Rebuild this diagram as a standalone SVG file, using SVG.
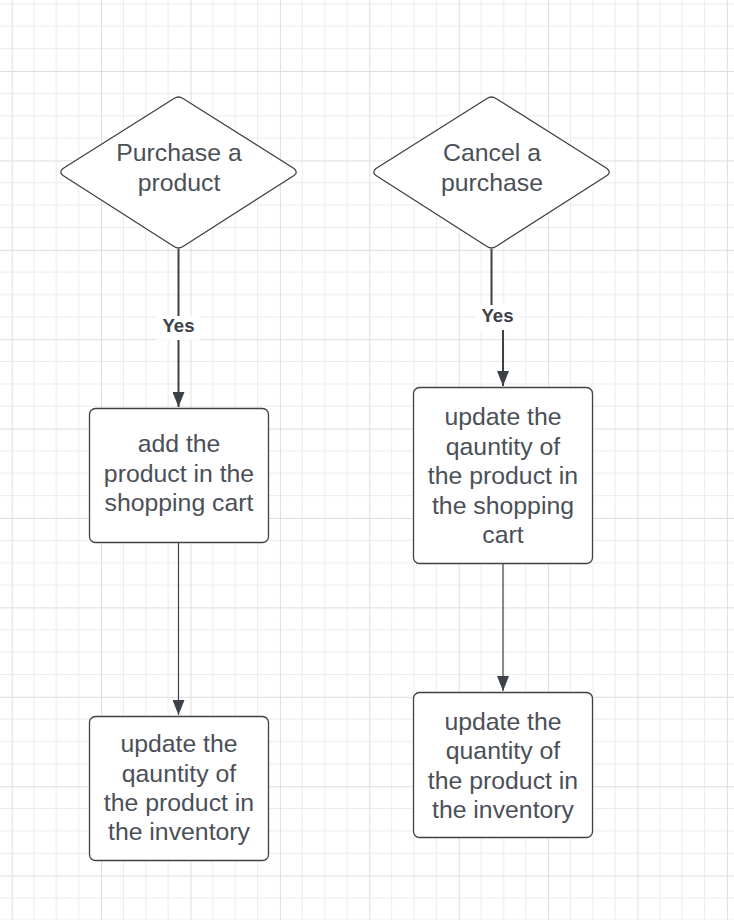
<svg xmlns="http://www.w3.org/2000/svg" width="734" height="920" viewBox="0 0 734 920">
<style>
.shape{fill:#ffffff;stroke:#3d4148;stroke-width:1.3;stroke-linejoin:round}
.lbl{font-family:"Liberation Sans",Arial,sans-serif;font-size:24.8px;fill:#4b5058;text-anchor:middle}
.yes{font-family:"Liberation Sans",Arial,sans-serif;font-size:18.6px;font-weight:bold;fill:#3d4148;text-anchor:middle}
.edge{fill:none;stroke:#3d4148}
</style>
<defs>
<pattern id="grid" patternUnits="userSpaceOnUse" x="11.7" y="71" width="89.4" height="89.4">
<path d="M22.35 0V89.4M44.7 0V89.4M67.05 0V89.4M0 22.35H89.4M0 44.7H89.4M0 67.05H89.4" stroke="#ececec" stroke-width="1" fill="none"/>
<path d="M0.5 0V89.4M0 0.5H89.4" stroke="#dedede" stroke-width="1" fill="none"/>
</pattern>
<marker id="arrd" markerUnits="userSpaceOnUse" viewBox="0 0 15 12" refX="15" refY="6" markerWidth="15" markerHeight="12" orient="auto">
<path d="M0 0L15 6L0 12Z" fill="#3d4148"/>
</marker>
</defs>
<rect width="734" height="920" fill="#ffffff"/>
<rect width="734" height="920" fill="url(#grid)"/>

<g id="connectors">
<path class="edge" d="M178.5 249V407" stroke-width="2" marker-end="url(#arrd)"/>
<path class="edge" d="M491.5 249V316H503V386" stroke-width="2" marker-end="url(#arrd)"/>
<path class="edge" d="M178.5 542V715" stroke-width="1.2" marker-end="url(#arrd)"/>
<path class="edge" d="M503 563V691" stroke-width="1.2" marker-end="url(#arrd)"/>
<rect x="157" y="316" width="43" height="24" fill="#ffffff"/>
<text class="yes" x="178.5" y="332">Yes</text>
<rect x="476" y="305" width="43" height="25" fill="#ffffff"/>
<text class="yes" x="497.5" y="322">Yes</text>
</g>

<g id="purchase">
<path class="shape" d="M174 98.5Q178.5 95.5 183 98.5L294 168.5Q298.5 172.5 294 175.5L183 246.5Q178.5 249.5 174 246.5L63 175.5Q58.5 172.5 63 168.5Z"/>
<text class="lbl" x="179" y="161">Purchase a</text>
<text class="lbl" x="179" y="190.5">product</text>
</g>

<g id="cancel">
<path class="shape" d="M487 98.5Q491.5 95.5 496 98.5L607 168.5Q611.5 172.5 607 175.5L496 246.5Q491.5 249.5 487 246.5L376 175.5Q371.5 172.5 376 168.5Z"/>
<text class="lbl" x="492" y="161">Cancel a</text>
<text class="lbl" x="492" y="190.5">purchase</text>
</g>

<g id="add-cart">
<rect class="shape" x="89.5" y="408.5" width="179" height="134" rx="6"/>
<text class="lbl" x="179" y="452">add the</text>
<text class="lbl" x="179" y="481.5">product in the</text>
<text class="lbl" x="179" y="511">shopping cart</text>
</g>

<g id="update-cart">
<rect class="shape" x="413.5" y="387.5" width="179" height="176" rx="6"/>
<text class="lbl" x="503" y="425">update the</text>
<text class="lbl" x="503" y="454.5">qauntity of</text>
<text class="lbl" x="503" y="484">the product in</text>
<text class="lbl" x="503" y="513.5">the shopping</text>
<text class="lbl" x="503" y="543">cart</text>
</g>

<g id="update-inventory-left">
<rect class="shape" x="89.5" y="716.5" width="179" height="144" rx="6"/>
<text class="lbl" x="179" y="752">update the</text>
<text class="lbl" x="179" y="781.5">qauntity of</text>
<text class="lbl" x="179" y="811">the product in</text>
<text class="lbl" x="179" y="840">the inventory</text>
</g>

<g id="update-inventory-right">
<rect class="shape" x="413.5" y="692.5" width="179" height="145" rx="6"/>
<text class="lbl" x="503" y="730">update the</text>
<text class="lbl" x="503" y="759">quantity of</text>
<text class="lbl" x="503" y="788.5">the product in</text>
<text class="lbl" x="503" y="818">the inventory</text>
</g>
</svg>
